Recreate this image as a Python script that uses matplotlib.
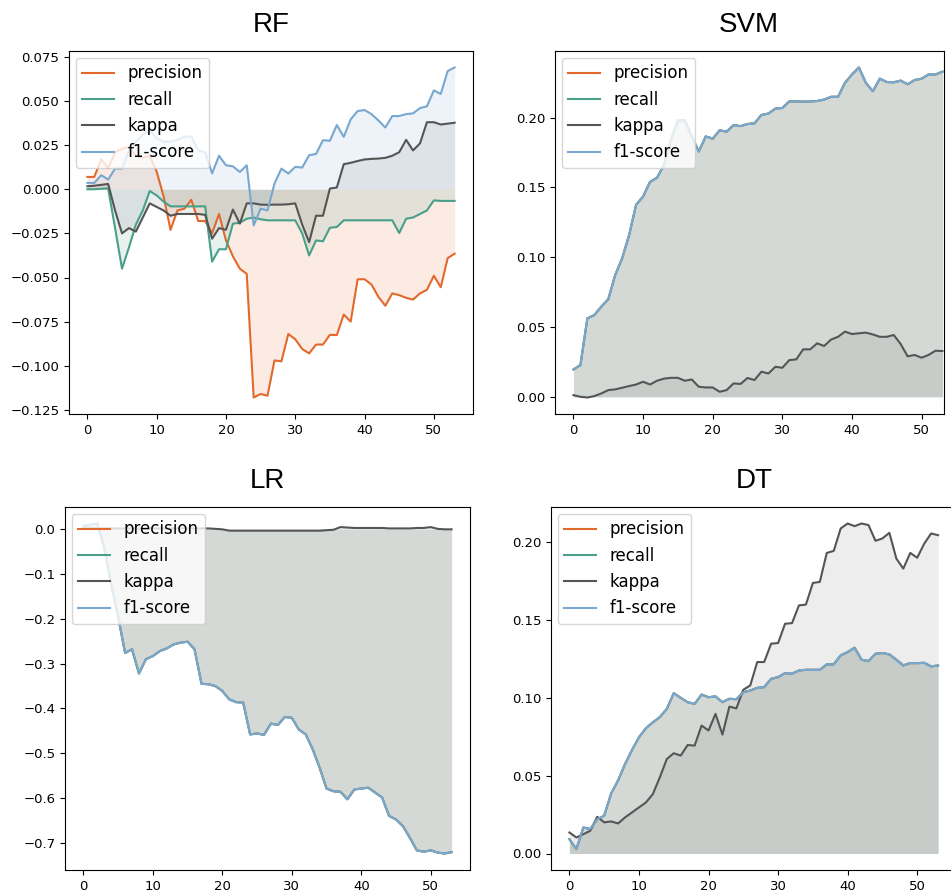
import numpy as np
import matplotlib
matplotlib.use("Agg")
import matplotlib.pyplot as plt

# ---------------- data ----------------
x = list(range(54))
metrics = ["precision", "recall", "kappa", "f1-score"]

rf_precision = [0.007, 0.007, 0.017, 0.012, 0.021, 0.023, 0.024, 0.019, 0.018, 0.019,
                0.010, -0.004, -0.023, -0.012, -0.011, -0.006, -0.018, -0.018, -0.025, -0.014,
                -0.029, -0.038, -0.045, -0.048, -0.118, -0.116, -0.117, -0.097, -0.0975, -0.082,
                -0.085, -0.0905, -0.093, -0.088, -0.088, -0.0825, -0.0826, -0.071, -0.075, -0.051,
                -0.051, -0.054, -0.061, -0.066, -0.059, -0.060, -0.0615, -0.0625, -0.059, -0.057,
                -0.049, -0.0555, -0.039, -0.0365]
rf_recall = [0.0, 0.0, 0.0003, 0.0005, -0.022, -0.045, -0.033, -0.020, -0.012, -0.001,
             -0.0035, -0.007, -0.0097, -0.0097, -0.0097, -0.0097, -0.0097, -0.0097, -0.041, -0.034,
             -0.034, -0.0195, -0.019, -0.0167, -0.016, -0.017, -0.0176, -0.0176, -0.0176, -0.0176,
             -0.0176, -0.025, -0.0375, -0.029, -0.0295, -0.0218, -0.0214, -0.0176, -0.0176, -0.0176,
             -0.0176, -0.0176, -0.0176, -0.0176, -0.0176, -0.0248, -0.0167, -0.016, -0.014, -0.012,
             -0.0063, -0.0066, -0.0066, -0.0066]
rf_kappa = [0.0017, 0.002, 0.0025, 0.003, -0.012, -0.025, -0.022, -0.024, -0.016, -0.008,
            -0.010, -0.012, -0.015, -0.014, -0.014, -0.014, -0.014, -0.0145, -0.028, -0.022,
            -0.023, -0.0115, -0.0195, -0.008, -0.008, -0.0087, -0.0088, -0.0087, -0.0087, -0.0085,
            -0.008, -0.020, -0.030, -0.015, -0.015, 0.0004, 0.001, 0.0142, 0.015, 0.016,
            0.0169, 0.0172, 0.0174, 0.0178, 0.019, 0.021, 0.028, 0.022, 0.026, 0.038,
            0.038, 0.0367, 0.0372, 0.0377]
rf_f1 = [0.0036, 0.0036, 0.008, 0.0055, 0.0117, 0.0117, 0.022, 0.027, 0.031, 0.0335,
         0.029, 0.027, 0.027, 0.028, 0.0297, 0.030, 0.022, 0.021, 0.009, 0.019,
         0.0136, 0.013, 0.0098, 0.0136, -0.0205, -0.011, -0.012, 0.0032, 0.0117, 0.0089,
         0.0127, 0.0123, 0.0193, 0.020, 0.0278, 0.0275, 0.0364, 0.0297, 0.0396, 0.0443,
         0.0449, 0.0426, 0.039, 0.035, 0.0415, 0.0415, 0.0426, 0.043, 0.046, 0.047,
         0.056, 0.054, 0.067, 0.069]

svm_f1 = [0.0196, 0.0227, 0.0562, 0.0586, 0.0646, 0.0699, 0.0873, 0.0993, 0.116, 0.1376,
          0.1435, 0.154, 0.157, 0.166, 0.184, 0.198, 0.198, 0.1866, 0.1758, 0.1866,
          0.185, 0.191, 0.190, 0.1947, 0.194, 0.1955, 0.196, 0.202, 0.203, 0.2065,
          0.207, 0.2117, 0.2117, 0.2115, 0.2117, 0.212, 0.213, 0.215, 0.215, 0.225,
          0.231, 0.236, 0.225, 0.219, 0.228, 0.2256, 0.2254, 0.2266, 0.224, 0.227,
          0.228, 0.231, 0.231, 0.233]
svm_precision = list(svm_f1)
svm_recall = list(svm_f1)
svm_kappa = [0.0012, 0.0, -0.0005, 0.0005, 0.0024, 0.0048, 0.0053, 0.0065, 0.0077, 0.0088,
             0.0108, 0.0088, 0.0115, 0.013, 0.0136, 0.0136, 0.0115, 0.0124, 0.0072, 0.0067,
             0.0067, 0.0036, 0.0048, 0.0096, 0.0092, 0.0135, 0.012, 0.018, 0.0167, 0.0215,
             0.0208, 0.0263, 0.0268, 0.034, 0.034, 0.0383, 0.0364, 0.041, 0.043, 0.0467,
             0.045, 0.0455, 0.046, 0.0447, 0.043, 0.043, 0.0443, 0.0378, 0.029, 0.030,
             0.028, 0.030, 0.033, 0.0328]

lr_f1 = [0.0074, 0.010, 0.013, -0.041, -0.123, -0.195, -0.276, -0.268, -0.322, -0.290,
         -0.283, -0.272, -0.266, -0.257, -0.253, -0.251, -0.268, -0.345, -0.346, -0.350,
         -0.361, -0.380, -0.386, -0.387, -0.458, -0.456, -0.459, -0.434, -0.437, -0.419,
         -0.421, -0.447, -0.458, -0.491, -0.532, -0.579, -0.585, -0.586, -0.603, -0.581,
         -0.579, -0.577, -0.588, -0.599, -0.640, -0.648, -0.663, -0.689, -0.717, -0.720,
         -0.717, -0.722, -0.724, -0.721]
lr_precision = list(lr_f1)
lr_recall = list(lr_f1)
lr_kappa = [0.002, 0.002, 0.002, 0.002, 0.002, 0.002, 0.002, 0.002, 0.002, 0.002,
            0.002, 0.002, 0.002, 0.002, 0.002, 0.002, 0.002, 0.002, 0.002, 0.001,
            0.0, -0.003, -0.003, -0.003, -0.003, -0.003, -0.003, -0.003, -0.003, -0.003,
            -0.003, -0.003, -0.003, -0.003, -0.003, -0.002, -0.001, 0.005, 0.004, 0.003,
            0.003, 0.003, 0.003, 0.003, 0.002, 0.002, 0.002, 0.002, 0.003, 0.003,
            0.005, 0.001, 0.0, 0.0]

dt_f1 = [0.0092, 0.0028, 0.0167, 0.0157, 0.022, 0.0243, 0.0386, 0.047, 0.0575, 0.0665,
         0.0747, 0.0805, 0.0843, 0.0876, 0.0929, 0.103, 0.100, 0.0972, 0.0961, 0.1021,
         0.1004, 0.1009, 0.0972, 0.0994, 0.0991, 0.1036, 0.1047, 0.1064, 0.1069, 0.1122,
         0.1133, 0.1159, 0.1155, 0.1176, 0.118, 0.118, 0.118, 0.1215, 0.1215, 0.1273,
         0.1294, 0.1322, 0.1245, 0.1236, 0.1283, 0.1288, 0.1279, 0.1245, 0.1208, 0.1223,
         0.1223, 0.1225, 0.1202, 0.1208]
dt_precision = list(dt_f1)
dt_recall = list(dt_f1)
dt_kappa = [0.0135, 0.0103, 0.0124, 0.0146, 0.0236, 0.020, 0.0206, 0.0193, 0.0232, 0.0264,
            0.0296, 0.0328, 0.0382, 0.049, 0.0607, 0.0644, 0.0629, 0.0697, 0.0693, 0.0822,
            0.079, 0.0897, 0.0764, 0.0944, 0.0932, 0.1052, 0.108, 0.123, 0.123, 0.1348,
            0.1352, 0.1476, 0.148, 0.1594, 0.1599, 0.1738, 0.1745, 0.1931, 0.1944, 0.2088,
            0.212, 0.2103, 0.212, 0.211, 0.2009, 0.2024, 0.206, 0.1895, 0.183, 0.1931,
            0.190, 0.199, 0.2056, 0.2045]

panels = {
    "RF": [rf_precision, rf_recall, rf_kappa, rf_f1],
    "SVM": [svm_precision, svm_recall, svm_kappa, svm_f1],
    "LR": [lr_precision, lr_recall, lr_kappa, lr_f1],
    "DT": [dt_precision, dt_recall, dt_kappa, dt_f1],
}

# ---------------- style ----------------
colors = ["#e2692b", "#48a08a", "#555555", "#79a7cf"]
fill_alpha = [0.13, 0.13, 0.10, 0.13]

W, H = 951, 892
fig = plt.figure(figsize=(W / 100, H / 100), dpi=100)

# axes boxes in pixels: left, top, right, bottom
boxes = {
    "RF": (69, 51, 473, 414),
    "SVM": (555, 51, 943.5, 414),
    "LR": (65, 507, 470, 870),
    "DT": (551, 507, 956.5, 870),
}

for name, series in panels.items():
    l, t, r, b = boxes[name]
    ax = fig.add_axes([l / W, (H - b) / H, (r - l) / W, (b - t) / H])
    for lab, ys, c, fa in zip(metrics, series, colors, fill_alpha):
        ax.plot(x, ys, color=c, lw=1.5, label=lab)
        ax.fill_between(x, 0, ys, color=c, alpha=fa, lw=0)
    if name == "SVM":
        ax.set_xlim(-2.65, 53.15)
    ax.set_xticks([0, 10, 20, 30, 40, 50])
    ax.tick_params(labelsize=9.5)
    ax.set_title(name, fontsize=20, family="Liberation Sans", pad=14)
    ax.legend(loc="upper left", fontsize=12, borderaxespad=0.4, handlelength=1.9)

fig.savefig("out.png", dpi=100)
